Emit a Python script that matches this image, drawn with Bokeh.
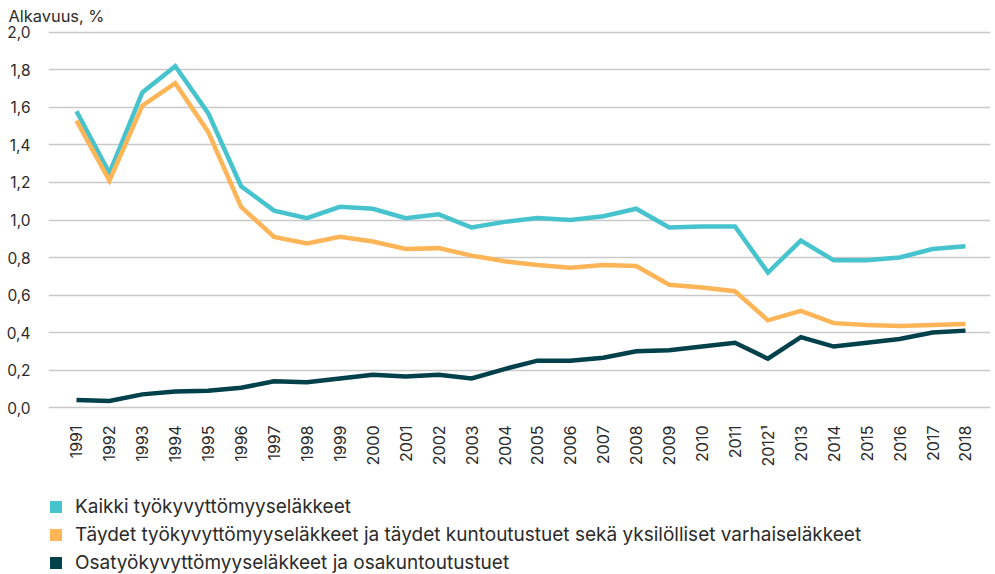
from bokeh.plotting import figure
from bokeh.models import Range1d, FixedTicker, CustomJSTickFormatter, Legend, LegendItem, Title
from bokeh.layouts import column
from bokeh.embed import file_html
from bokeh.resources import INLINE
import math

years = list(range(1991, 2019))
year_labels = {2012: "2012\u00b9"}
y_ticks = [0.0, 0.2, 0.4, 0.6, 0.8, 1.0, 1.2, 1.4, 1.6, 1.8, 2.0]

kaikki = [1.58, 1.25, 1.68, 1.82, 1.57, 1.18, 1.05, 1.01, 1.07, 1.06,
          1.01, 1.03, 0.96, 0.99, 1.01, 1.00, 1.02, 1.06, 0.96, 0.965,
          0.965, 0.72, 0.89, 0.785, 0.785, 0.80, 0.845, 0.86]
taydet = [1.53, 1.21, 1.61, 1.73, 1.47, 1.07, 0.91, 0.875, 0.91, 0.885,
          0.845, 0.85, 0.81, 0.78, 0.76, 0.745, 0.76, 0.755, 0.655, 0.64,
          0.62, 0.465, 0.515, 0.45, 0.44, 0.435, 0.44, 0.445]
osa = [0.04, 0.035, 0.07, 0.085, 0.09, 0.105, 0.14, 0.135, 0.155, 0.175,
       0.165, 0.175, 0.155, 0.205, 0.25, 0.25, 0.265, 0.30, 0.305, 0.325,
       0.345, 0.26, 0.375, 0.325, 0.345, 0.365, 0.40, 0.41]

names = ["Kaikki työkyvyttömyyseläkkeet",
         "Täydet työkyvyttömyyseläkkeet ja täydet kuntoutustuet sekä yksilölliset varhaiseläkkeet",
         "Osatyökyvyttömyyseläkkeet ja osakuntoutustuet"]
colors = ["#47C3CE", "#FDB558", "#01414C"]
series = [kaikki, taydet, osa]

FONT = "Inter"
TXT = "#2b2b2b"

p = figure(width=995, height=490, output_backend="svg", toolbar_location=None,
           x_range=Range1d(1990.15, 2018.76), y_range=Range1d(-0.0213, 2.0213),
           min_border_left=48, min_border_right=5, min_border_top=28, min_border_bottom=79)
p.outline_line_color = None
p.xgrid.grid_line_color = None
p.ygrid.grid_line_color = "#c9c9c9"
p.ygrid.grid_line_width = 1.5

p.yaxis.ticker = FixedTicker(ticks=y_ticks)
p.yaxis.formatter = CustomJSTickFormatter(code="return tick.toFixed(1).replace('.', ',');")
p.yaxis.axis_line_color = None
p.yaxis.major_tick_line_color = None
p.yaxis.minor_tick_line_color = None
p.yaxis.major_tick_out = 0
p.yaxis.major_label_standoff = 18
p.yaxis.major_label_text_font = FONT
p.yaxis.major_label_text_font_size = "15.5px"
p.yaxis.major_label_text_color = TXT

p.xaxis.ticker = FixedTicker(ticks=years)
p.xaxis.major_label_overrides = year_labels
p.xaxis.major_label_orientation = math.pi / 2
p.xaxis.axis_line_color = None
p.xaxis.major_tick_line_color = None
p.xaxis.minor_tick_line_color = None
p.xaxis.major_tick_out = 0
p.xaxis.major_label_standoff = 14
p.xaxis.major_label_text_font = FONT
p.xaxis.major_label_text_font_size = "16px"
p.xaxis.major_label_text_color = TXT

for vals, c in zip(series, colors):
    p.line(years, vals, line_color=c, line_width=4.5, line_join="miter")

p.add_layout(Title(text="Alkavuus, %", align="left", offset=-40, standoff=6,
                   text_font=FONT, text_font_size="16.4px", text_color=TXT,
                   text_font_style="normal"), "above")

# legend figure (frame aligned with the main plot's frame by the column layout)
lf = figure(width=995, height=84, output_backend="svg", toolbar_location=None,
            x_range=Range1d(0, 1), y_range=Range1d(0, 1),
            x_axis_type=None, y_axis_type=None,
            min_border_left=0, min_border_right=0, min_border_top=0, min_border_bottom=0)
lf.outline_line_color = None
lf.xgrid.visible = False
lf.ygrid.visible = False

items = []
for name, c in zip(names, colors):
    r = lf.quad(left=[-6], right=[-5], bottom=[-6], top=[-5], fill_color=c, line_color=None)
    items.append(LegendItem(label=name, renderers=[r]))

legend = Legend(items=items, location=(0, 0), orientation="vertical",
                glyph_width=15, glyph_height=15, label_height=22, spacing=5,
                padding=0, margin=0, label_standoff=12,
                label_text_font=FONT, label_text_font_size="19px",
                label_text_color=TXT, border_line_color=None,
                background_fill_alpha=0)
lf.add_layout(legend, "center")

layout = column(p, lf, spacing=0)
open("out.html", "w").write(file_html(layout, INLINE))
